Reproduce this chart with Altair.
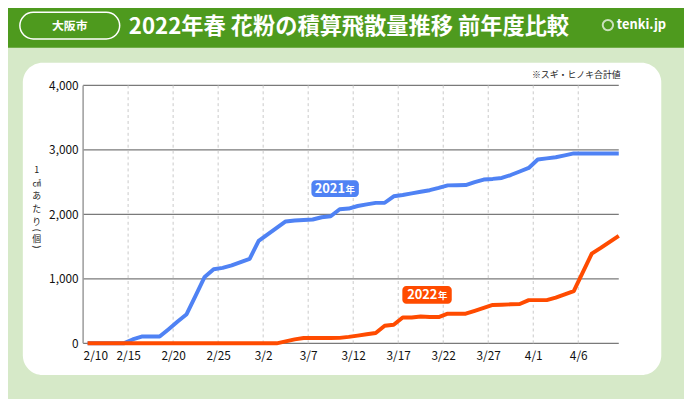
import altair as alt
import pandas as pd

# ---- data ----
start = pd.Timestamp("2022-02-10")
dates = [f"{d.month}/{d.day}" for d in pd.date_range(start, "2022-04-10")]

tick_labels = ["2/10", "2/15", "2/20", "2/25", "3/2", "3/7", "3/12",
               "3/17", "3/22", "3/27", "4/1", "4/6"]
y_ticks = [0, 1000, 2000, 3000, 4000]

series_2021 = [0, 0, 0, 0, 0, 60, 105, 105, 105, 220,
               340, 452, 740, 1030, 1150, 1170, 1210, 1260, 1310, 1590,
               1690, 1790, 1890, 1905, 1912, 1920, 1955, 1970, 2080, 2090,
               2130, 2155, 2178, 2180, 2280, 2300, 2325, 2350, 2375, 2410,
               2450, 2452, 2455, 2500, 2540, 2550, 2565, 2610, 2665, 2720,
               2850, 2868, 2885, 2915, 2945, 2945, 2945, 2945, 2945, 2945]
series_2022 = [0, 0, 0, 0, 0, 0, 0, 0, 0, 0,
               0, 0, 0, 0, 0, 0, 0, 0, 0, 0,
               0, 0, 30, 62, 84, 84, 84, 84, 85, 100,
               120, 140, 160, 273, 288, 401, 401, 415, 410, 408,
               460, 460, 460, 505, 550, 595, 600, 605, 610, 670,
               670, 670, 710, 760, 810, 1100, 1390, 1480, 1575, 1667]

title = "2022年春 花粉の積算飛散量推移 前年度比較"
city = "大阪市"
note = "※スギ・ヒノキ合計値"
# vertical axis title, one glyph per row
y_title_chars = ["1", "㎠", "あ", "た", "り", "(", "個", ")"]

# ---- styling ----
FONT = "Noto Sans CJK JP"
GREEN = "#4e9a1e"
LIGHT = "#d6e9c8"
BLUE = "#4f82f4"
ORANGE = "#ff4b00"
W, H = 542, 261

tick_days = [dates.index(t) for t in tick_labels]
df = pd.DataFrame({"day": list(range(len(dates))), "date": dates,
                   "v2021": series_2021, "v2022": series_2022})

x_scale = alt.Scale(domain=[0, len(dates) - 0.5], nice=False, zero=False)
y_scale = alt.Scale(domain=[0, 4000], nice=False)
label_expr = "[" + ",".join(f"'{t}'" for t in tick_labels) + "][round(datum.value/5)]"
x_axis = alt.Axis(values=tick_days, labelExpr=label_expr, grid=False, domain=False,
                  ticks=False, labelFont=FONT, labelFontSize=12, labelColor="#111",
                  labelPadding=7, title=None, zindex=1)
y_axis = alt.Axis(values=y_ticks, labelExpr="format(datum.value, ',d')", grid=False,
                  domain=False, ticks=False, labelFont=FONT, labelFontSize=12,
                  labelColor="#111", labelPadding=5, title=None, zindex=1)

one = pd.DataFrame({"a": [0]})


def box(x, x2, y, y2, **kw):
    return alt.Chart(one).mark_rect(**kw).encode(
        x=alt.value(x), x2=alt.value(x2), y=alt.value(y), y2=alt.value(y2))


def label(x, y, text, **kw):
    return alt.Chart(one).mark_text(text=text, font=FONT, **kw).encode(
        x=alt.value(x), y=alt.value(y))


header = box(-100, 700, -100, -38, fill=GREEN)
panel = box(-61, 585, -23, 293, fill="white", cornerRadius=20)
pill = box(-64, 37, -74, -47, fill=GREEN, stroke="white", strokeWidth=1.5, cornerRadius=13.5)
pill_text = label(-13.5, -60.5, city, fontSize=12, fontWeight="bold", color="white")
title_text = label(269, -59.5, title, fontSize=22.5, fontWeight="bold", color="white")
logo_icon = alt.Chart(one).mark_point(shape="circle", size=110, stroke="white",
                                      strokeWidth=2, filled=False).encode(
    x=alt.value(531), y=alt.value(-61))
logo_text = label(540, -61, "tenki.jp", fontSize=13, fontWeight="bold",
                  color="white", align="left")
note_text = label(544, -10.5, note, fontSize=9, color="#222", align="right")

# vertical (tategaki) axis title
y_rows = [86, 99, 112, 125, 138, 146.5, 155, 163.5]
y_angles = [0, 0, 0, 0, 0, 90, 0, 90]
y_sizes = [9, 8.5, 9, 9, 9, 9, 9, 9]
y_title = [
    label(-47, yy, ch, fontSize=fs, color="#222", angle=ang)
    for ch, yy, ang, fs in zip(y_title_chars, y_rows, y_angles, y_sizes)
]

hgrid = alt.Chart(pd.DataFrame({"v": y_ticks})).mark_rule(
    color="#7a7a7a", strokeWidth=1.2).encode(
    y=alt.Y("v:Q", scale=y_scale, axis=y_axis))
vgrid = alt.Chart(pd.DataFrame({"d": tick_days[1:]})).mark_rule(
    color="#c9c9c9", strokeWidth=1, strokeDash=[3, 3]).encode(
    x=alt.X("d:Q", scale=x_scale, axis=x_axis))
yline = alt.Chart(pd.DataFrame({"d": [0]})).mark_rule(
    color="#9a9a9a", strokeWidth=1.5).encode(
    x=alt.X("d:Q", scale=x_scale, axis=x_axis))


def series_line(col, color):
    return alt.Chart(df).transform_calculate(xpos="datum.day + 0.5").mark_line(
        color=color, strokeWidth=4, strokeJoin="round").encode(
        x=alt.X("xpos:Q", scale=x_scale, axis=x_axis),
        y=alt.Y(f"{col}:Q", scale=y_scale, axis=y_axis))


line21 = series_line("v2021", BLUE)
line22 = series_line("v2022", ORANGE)

tag21 = box(231, 279, 96, 113, fill=BLUE, cornerRadius=4)
tag21_a = label(265, 105, "2021", fontSize=13, fontWeight="bold", color="white", align="right")
tag21_b = label(265.5, 106, "年", fontSize=9.5, fontWeight="bold", color="white", align="left")
tag22 = box(323, 373, 203, 221, fill=ORANGE, cornerRadius=4)
tag22_a = label(358.5, 212.5, "2022", fontSize=13, fontWeight="bold", color="white", align="right")
tag22_b = label(359, 213.5, "年", fontSize=9.5, fontWeight="bold", color="white", align="left")

chart = alt.layer(
    header, panel, pill, pill_text, title_text, logo_icon, logo_text, note_text,
    *y_title, hgrid, vgrid, yline, line21, line22,
    tag21, tag21_a, tag21_b, tag22, tag22_a, tag22_b,
).properties(
    width=W, height=H,
    autosize=alt.AutoSizeParams(type="none"),
    padding={"left": 76, "top": 76, "right": 66, "bottom": 54},
    background=LIGHT,
).configure_view(strokeWidth=0)

chart.save("out.html", embed_options={"renderer": "svg", "actions": False})
